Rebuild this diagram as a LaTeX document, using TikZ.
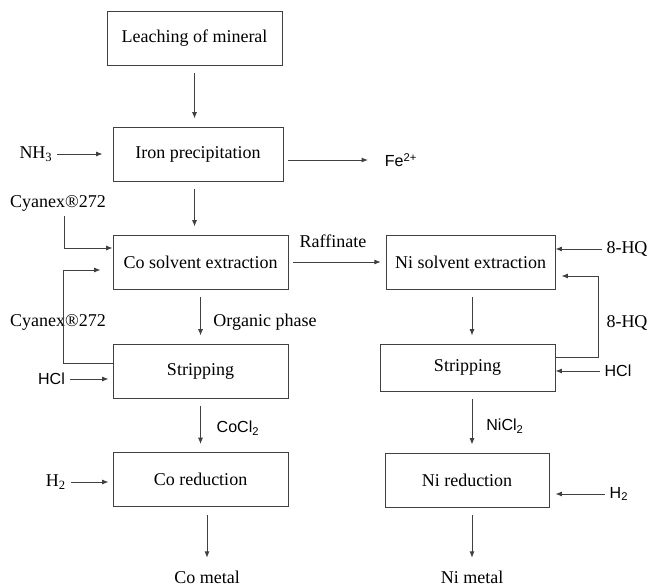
\documentclass[tikz,border=0pt]{standalone}
\usepackage{fontspec}
\setmainfont{Liberation Serif}
\setsansfont{Liberation Sans}
\usepackage{tikz}
\usetikzlibrary{arrows.meta, calc}

\tikzset{
    stage/.style={draw=black!75, line width=0.6pt, minimum width=4.375cm, minimum height=1.35cm, font=\fontsize{12.8}{15}\selectfont},
    lbl/.style={font=\fontsize{12.8}{15}\selectfont},
    slbl/.style={font=\sffamily\fontsize{11.4}{13}\selectfont},
    flow/.style={draw=black!75, line width=0.6pt, -{Latex[length=4.5pt,width=3.5pt]}},
    gap/.style={shorten <=0.2cm, shorten >=0.2cm}
}

\begin{document}
\begin{tikzpicture}[x=0.025cm, y=-0.025cm]
        \useasboundingbox (0,0) rectangle (653,585);

        % Process stages
        \node[stage] (leach) at (194.5,38) {Leaching of mineral};
        \node[stage, minimum width=4.25cm] (iron) at (198,154) {Iron precipitation};
        \node[stage] (cosx) at (200.5,262) {Co solvent extraction};
        \node[stage, minimum width=4.225cm] (nisx) at (470.5,262) {Ni solvent extraction};
        \node[stage] (costrip) at (200.5,371) {Stripping};
        \node[stage, minimum height=1.175cm] (nistrip) at (467.5,367.5) {Stripping};
        \node[stage] (cored) at (200.5,479.5) {Co reduction};
        \node[stage, minimum width=4.1cm] (nired) at (467,480) {Ni reduction};

        % Reagents and products
        \node[lbl] (nh3) at (36,154) {NH\textsubscript{3}};
        \node[slbl] (fe) at (401,160) {Fe\textsuperscript{2+}};
        \node[lbl] (cyan1) at (58,203) {Cyanex®272};
        \node[lbl] (cyan2) at (58,322) {Cyanex®272};
        \node[slbl] (hcl1) at (51.5,379) {HCl};
        \node[lbl] (h2a) at (56,482) {H\textsubscript{2}};
        \node[lbl] (organic) at (265,322) {Organic phase};
        \node[slbl] (cocl) at (238,428) {CoCl\textsubscript{2}};
        \node[lbl] (raff) at (333,241) {Raffinate};
        \node[lbl] (hq1) at (627,249) {8-HQ};
        \node[lbl] (hq2) at (627,323) {8-HQ};
        \node[slbl] (hcl2) at (618,371) {HCl};
        \node[slbl] (nicl) at (505,426) {NiCl\textsubscript{2}};
        \node[slbl] (h2b) at (619,494) {H\textsubscript{2}};
        \node[lbl] (comet) at (207,577) {Co metal};
        \node[lbl] (nimet) at (472,577) {Ni metal};

        % Cobalt line
        \draw[flow, gap] (leach.south) -- (leach.south |- iron.north);
        \draw[flow, gap] (iron.south -| leach.south) -- (leach.south |- cosx.north);
        \draw[flow, gap] (cosx.south) -- (costrip.north);
        \draw[flow, gap] (costrip.south) -- (cored.north);
        \draw[flow, gap] (cored.south -| comet) -- (comet.north);
        \draw[flow, shorten >=0.25cm] (nh3) -- (nh3 -| iron.west);
        \draw[flow, shorten <=0.12cm, shorten >=0.3cm] (iron.east |- fe) -- (fe.west);
        \draw[flow] ([xshift=0.15cm]cyan1.south) |- ([yshift=0.35cm]cosx.west);
        \draw[flow] ([yshift=0.2cm]costrip.west) -- ++(-49,0) |- ([xshift=-0.3cm, yshift=-0.2cm]cosx.west);
        \draw[flow, shorten >=0.1cm] (hcl1) -- (hcl1 -| costrip.west);
        \draw[flow, shorten >=0.1cm] (h2a) -- (h2a -| cored.west);

        % Raffinate to nickel line
        \draw[flow, shorten <=0.12cm, shorten >=0.12cm] (cosx.east) -- (nisx.west);

        % Nickel line
        \draw[flow, gap] (nisx.south -| nimet) -- (nistrip.north -| nimet);
        \draw[flow, gap] (nistrip.south -| nimet) -- (nired.north -| nimet);
        \draw[flow, gap] (nired.south -| nimet) -- (nimet.north);
        \draw[flow] (hq1) -- (hq1 -| nisx.east);
        \draw[flow] ([yshift=0.26cm]nistrip.east) -- ++(43,0) |- ([xshift=0.15cm, yshift=-0.35cm]nisx.east);
        \draw[flow] (hcl2) -- (hcl2 -| nistrip.east);
        \draw[flow, shorten >=0.15cm] (h2b) -- (h2b -| nired.east);
    \end{tikzpicture}
\end{document}
